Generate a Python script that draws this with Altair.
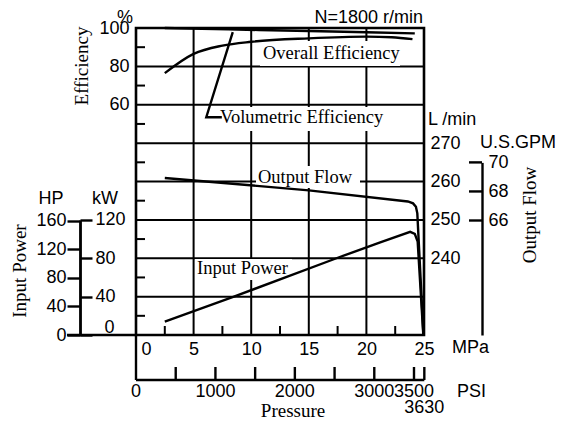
import altair as alt
import pandas as pd

# ---------------- data ----------------
mpa_ticks = [0, 5, 10, 15, 20, 25]
mpa_grid = [5, 10, 15, 20]
mpa_minor = [2.5, 7.5, 12.5, 17.5, 22.5]
row_grid = [1, 2, 3, 4, 5, 6, 7]
row_minor = [0.5, 1.5, 2.5, 3.5, 4.5, 5.5, 6.5, 7.5]

psi_ticks = [500, 1000, 1500, 2000, 2500, 3000, 3500, 3630]
psi_label_vals = [0, 1000, 2000, 3000, 3500]
psi_label_text = ["0", "1000", "2000", "3000", "3500"]
psi_end = 3630

eff_ticks = [60, 80, 100]
flow_ticks = [240, 250, 260, 270]
kw_ticks = [0, 40, 80, 120]
hp_ticks = [0, 40, 80, 120, 160]
gpm_ticks = [66, 68, 70]

overall_p = [2.5, 5, 7.5, 10, 15, 20, 22.2, 24]
overall_eff = [76.5, 86.5, 90.8, 92.8, 94.6, 95.5, 95.2, 94.2]
vol_p = [2.5, 8, 15, 20, 24.2]
vol_eff = [100, 99.3, 98.4, 97.8, 97.2]
leader_p = [8.4, 6.1, 7.45]
leader_eff = [97.8, 53.5, 53.5]

flow_p = [2.5, 15, 23.6, 24.05, 24.3, 24.42, 24.95]
flow_lpm = [260.9, 257.7, 254.8, 254.3, 253.4, 251.7, 220]
power_p = [2.5, 8.5, 17.4, 21.2, 23.8, 24.2, 24.45, 24.94]
power_kw = [14, 40, 80, 96.5, 107.5, 105.5, 97.5, 0]

PSI_PER_MPA = 145.0377
LPM_PER_GPM = 3.78541
KW_PER_HP = 0.7457

# ---------------- layout / style ----------------
SANS = "Liberation Sans"
SERIF = "Liberation Serif"
W, H = 288, 307
ROW = H / 8
LW = 2.4

X_SCALE = alt.Scale(domain=[0, 25], nice=False, zero=False)
U_SCALE = alt.Scale(domain=[0, 8], nice=False, zero=False)
EFF_SCALE = alt.Scale(domain=[-60, 100], nice=False, zero=False)
FLOW_SCALE = alt.Scale(domain=[220, 300], nice=False, zero=False)
KW_SCALE = alt.Scale(domain=[0, 120], range=[H, H - 3 * ROW], nice=False, zero=False)
HP_SCALE = alt.Scale(domain=[0, 160], range=[H, H - 160 * KW_PER_HP / 40 * ROW], nice=False, zero=False)
GPM_SCALE = alt.Scale(domain=[220 / LPM_PER_GPM, 70],
                      range=[H, H - (70 * LPM_PER_GPM - 220) / 10 * ROW], nice=False, zero=False)


def X(field="p"):
    return alt.X(f"{field}:Q", scale=X_SCALE, axis=None)


lab = dict(labelFont=SANS, labelFontSize=18, labelColor="black", title=None, grid=False)

# vertical grid + MPa axis
grid_v = alt.Chart(pd.DataFrame({"p": mpa_grid})).mark_rule(color="black", strokeWidth=2).encode(
    x=alt.X("p:Q", scale=X_SCALE, axis=alt.Axis(
        orient="bottom", values=mpa_ticks, ticks=False, tickSize=0, domain=False, labelFlush=False,
        labelPadding=5,
        labelOffset={"condition": {"test": "datum.value == 0", "value": 10}, "value": 0}, **lab)),
    y=alt.value(0), y2=alt.value(H))

grid_h = alt.Chart(pd.DataFrame({"u": row_grid})).mark_rule(color="black", strokeWidth=2).encode(
    y=alt.Y("u:Q", scale=U_SCALE, axis=None), x=alt.value(0), x2=alt.value(W))

minor_left = alt.Chart(pd.DataFrame({"u": row_minor})).mark_rule(color="black", strokeWidth=2).encode(
    y=alt.Y("u:Q", scale=U_SCALE, axis=None), x=alt.value(0), x2=alt.value(9))

minor_bottom = alt.Chart(pd.DataFrame({"p": mpa_minor})).mark_rule(color="black", strokeWidth=2).encode(
    x=X(), y=alt.value(H - 9), y2=alt.value(H))

# white label boxes
boxes = pd.DataFrame({
    "x": [124, 82, 120, 59], "x2": [264, 252, 224, 156],
    "y": [13, 79, 138, 231], "y2": [38, 103, 160, 252]})
box_layer = alt.Chart(boxes).mark_rect(color="white").encode(
    x=alt.X("x:Q", scale=None), x2="x2:Q", y=alt.Y("y:Q", scale=None), y2="y2:Q")

# efficiency curves
eff_df = pd.concat([
    pd.DataFrame({"s": "overall", "p": overall_p, "v": overall_eff}),
    pd.DataFrame({"s": "volumetric", "p": vol_p, "v": vol_eff}),
])
eff_layer = alt.Chart(eff_df).mark_line(color="black", strokeWidth=LW, interpolate="monotone").encode(
    x=X(), detail="s:N",
    y=alt.Y("v:Q", scale=EFF_SCALE, axis=alt.Axis(
        orient="left", values=eff_ticks, ticks=False, tickSize=0, domain=False, labelPadding=7, **lab)))

leader_df = pd.DataFrame({"p": leader_p, "v": leader_eff, "i": [0, 1, 2]})
leader = alt.Chart(leader_df).mark_line(color="black", strokeWidth=LW).encode(
    x=X(), y=alt.Y("v:Q", scale=EFF_SCALE, axis=None), order="i:Q")

# output flow
flow_layer = alt.Chart(pd.DataFrame({"p": flow_p, "v": flow_lpm})).mark_line(
    color="black", strokeWidth=LW).encode(
    x=X(),
    y=alt.Y("v:Q", scale=FLOW_SCALE, axis=alt.Axis(
        orient="right", values=flow_ticks, ticks=False, tickSize=0, domain=False, labelPadding=6, **lab)))

# input power (kW axis drawn left of the plot)
power_layer = alt.Chart(pd.DataFrame({"p": power_p, "v": power_kw})).mark_line(
    color="black", strokeWidth=LW).encode(
    x=X(),
    y=alt.Y("v:Q", scale=KW_SCALE, axis=alt.Axis(
        orient="right", offset=-(W + 56), values=kw_ticks, tickSize=12, tickWidth=LW, tickColor="black",
        domain=True, domainWidth=LW, domainColor="black",
        labelPadding={"condition": {"test": "datum.value == 0", "value": 12}, "value": 3},
        labelOffset={"condition": {"test": "datum.value == 0", "value": -8}, "value": 0}, **lab)))

hp_layer = alt.Chart(pd.DataFrame({"hp": [0]})).mark_rule(color="black", strokeWidth=LW).encode(
    y=alt.Y("hp:Q", scale=HP_SCALE, axis=alt.Axis(
        orient="left", offset=56, values=hp_ticks, tickSize=13, tickWidth=LW, tickColor="black",
        domain=True, domainWidth=LW, domainColor="black", labelPadding=1, **lab)),
    x=alt.value(-69), x2=alt.value(0))

gpm_layer = alt.Chart(pd.DataFrame({"g": gpm_ticks})).mark_rule(color="black", strokeWidth=LW).encode(
    y=alt.Y("g:Q", scale=GPM_SCALE, axis=alt.Axis(
        orient="right", offset=58, values=gpm_ticks, ticks=False, tickSize=0,
        domain=True, domainWidth=LW, domainColor="black", labelPadding=6, **lab)),
    x=alt.value(W + 58 - 13), x2=alt.value(W + 58))

# PSI scale under the MPa axis
psi_tick_layer = alt.Chart(pd.DataFrame({"p": [v / PSI_PER_MPA for v in psi_ticks]})).mark_rule(
    color="black", strokeWidth=LW).encode(x=X(), y=alt.value(339), y2=alt.value(352))
psi_line = alt.Chart(pd.DataFrame({"p": [0], "p2": [psi_end / PSI_PER_MPA]})).mark_rule(
    color="black", strokeWidth=LW).encode(x=X(), x2="p2:Q", y=alt.value(352))
psi_left = alt.Chart(pd.DataFrame({"p": [0]})).mark_rule(color="black", strokeWidth=LW).encode(
    x=X(), y=alt.value(H), y2=alt.value(352))
psi_labels = alt.Chart(pd.DataFrame({
    "p": [v / PSI_PER_MPA for v in psi_label_vals], "t": psi_label_text})).mark_text(
    font=SANS, fontSize=18, color="black", baseline="middle").encode(x=X(), y=alt.value(364), text="t:N")
psi_end_label = alt.Chart(pd.DataFrame({"p": [psi_end / PSI_PER_MPA], "t": [str(psi_end)]})).mark_text(
    font=SANS, fontSize=18, color="black", baseline="middle").encode(x=X(), y=alt.value(380), text="t:N")


def texts(rows, **kw):
    df = pd.DataFrame(rows, columns=["x", "y", "t"])
    return alt.Chart(df).mark_text(color="black", baseline="middle", **kw).encode(
        x=alt.X("x:Q", scale=None), y=alt.Y("y:Q", scale=None), text="t:N")


sans_center = texts([(-11, -10, "%"), (-85, 171, "HP"), (-31, 171, "kW")], font=SANS, fontSize=18)
sans_left = texts([(292, 92, "L /min"), (344, 115, "U.S.GPM"), (316, 320, "MPa"), (321, 364, "PSI")],
                  font=SANS, fontSize=18, align="left")
sans_right = texts([(287, -10, "N=1800 r/min")], font=SANS, fontSize=18, align="right")
serif_in = texts([(127, 25, "Overall Efficiency"), (84, 89, "Volumetric Efficiency"),
                  (122, 149, "Output Flow"), (61, 240, "Input Power")],
                 font=SERIF, fontSize=18.5, align="left")
serif_rot = texts([(-54, 38, "Efficiency"), (-116, 243, "Input Power"), (394, 187, "Output Flow")],
                  font=SERIF, fontSize=19, angle=270)
serif_center = texts([(157, 383, "Pressure")], font=SERIF, fontSize=19)

chart = alt.layer(
    grid_v, grid_h, minor_left, minor_bottom, box_layer,
    eff_layer, leader, flow_layer, power_layer, hp_layer, gpm_layer,
    psi_tick_layer, psi_line, psi_left, psi_labels, psi_end_label,
    sans_center, sans_left, sans_right, serif_in, serif_rot, serif_center,
).resolve_scale(y="independent").resolve_axis(x="independent").properties(
    width=W, height=H,
    autosize=alt.AutoSizeParams(type="none"),
    padding={"left": 128, "top": 20, "right": 137, "bottom": 88},
    background="white",
).configure_view(stroke="black", strokeWidth=2.6)

chart.save("out.html", embed_options={"renderer": "svg", "actions": False})
